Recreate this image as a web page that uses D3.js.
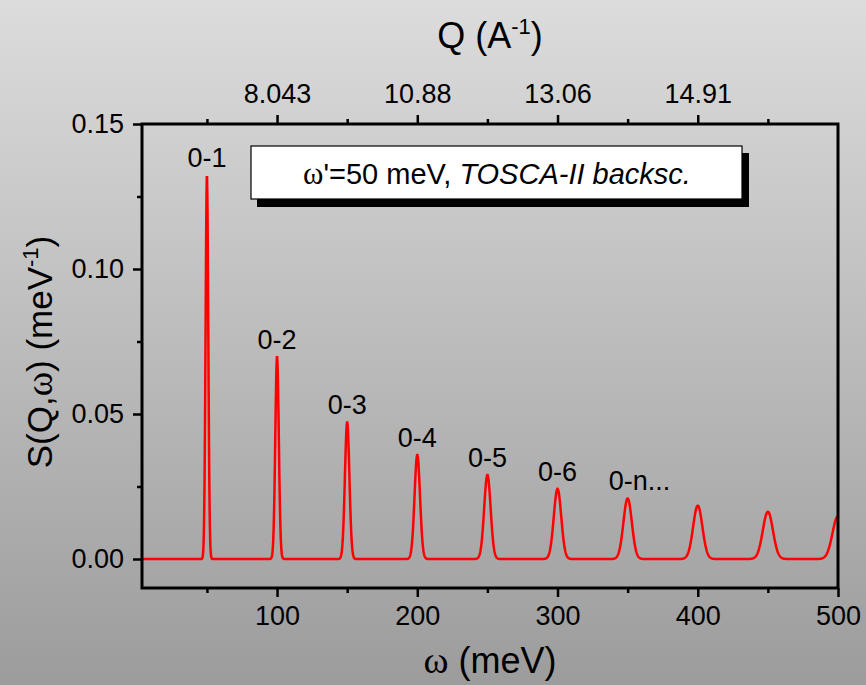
<!DOCTYPE html>
<html lang="en">
<head>
<meta charset="UTF-8">
<title>S(Q,w) TOSCA-II</title>
<script src="https://d3js.org/d3.v7.min.js"></script>
<style>
    body { margin: 0; }
    svg { display: block; font-family: "Liberation Sans", Arial, sans-serif; }
    .axis path { display: none; }
    .axis line { stroke: #000; stroke-width: 2.5; }
    .axis text { fill: #000; font-size: 27px; font-family: "Liberation Sans", Arial, sans-serif; }
    .peak-label { font-size: 27px; fill: #000; }
    .sym { font-family: "Liberation Serif", "Times New Roman", serif; }
</style>
</head>
<body>
<div id="chart"></div>
<script>
    // Peaks: centre (meV), height (1/meV), gaussian sigma (meV)
    const peakCenters = [50, 100, 150, 200, 250, 300, 350, 400, 450, 500];
    const peakHeights = [0.1324, 0.0698, 0.0472, 0.0359, 0.0290, 0.0242, 0.0209, 0.0184, 0.0163, 0.0148];
    const peakSigmas  = [0.95, 1.25, 1.6, 1.95, 2.3, 2.65, 3.0, 3.3, 3.6, 3.9];
    const peakLabels  = ["0-1", "0-2", "0-3", "0-4", "0-5", "0-6", "0-n..."];

    // axes
    const xMajorTicks = [100, 200, 300, 400, 500];
    const xMinorTicks = [50, 150, 250, 350, 450];
    const qTickValues = [100, 200, 300, 400];
    const qTickLabels = ["8.043", "10.88", "13.06", "14.91"];
    const yMajorTicks = [0, 0.05, 0.10, 0.15];
    const yMinorTicks = [0.025, 0.075, 0.125];

    const W = 866, H = 685;
    const margin = {top: 124, right: 28, bottom: 97, left: 142};
    const width = W - margin.left - margin.right;
    const height = H - margin.top - margin.bottom;

    const svg = d3.select("#chart").append("svg")
        .attr("width", W).attr("height", H);

    // grey gradient background
    const grad = svg.append("defs").append("linearGradient")
        .attr("id", "bg").attr("x1", 0).attr("y1", 0).attr("x2", 0).attr("y2", 1);
    grad.append("stop").attr("offset", "0%").attr("stop-color", "#dcdcdc");
    grad.append("stop").attr("offset", "100%").attr("stop-color", "#9c9c9c");
    svg.append("rect").attr("width", W).attr("height", H).attr("fill", "url(#bg)");

    svg.select("defs").append("clipPath").attr("id", "clip")
        .append("rect").attr("width", width).attr("height", height);

    const g = svg.append("g").attr("transform", `translate(${margin.left},${margin.top})`);

    const x = d3.scaleLinear().domain([3.7, 500]).range([0, width]);
    const y = d3.scaleLinear().domain([-0.01, 0.15]).range([height, 0]);

    // curve = sum of the gaussians above
    const omega = d3.range(3.7, 500.01, 0.2);
    const curve = omega.map(w => {
        let s = 0;
        peakCenters.forEach((c, i) => {
            s += peakHeights[i] * Math.exp(-0.5 * Math.pow((w - c) / peakSigmas[i], 2));
        });
        return [w, s];
    });

    g.append("path")
        .datum(curve)
        .attr("clip-path", "url(#clip)")
        .attr("fill", "none")
        .attr("stroke", "#ff0000")
        .attr("stroke-width", 2.5)
        .attr("d", d3.line().x(d => x(d[0])).y(d => y(d[1])));

    // bottom axis
    g.append("g").attr("class", "axis")
        .attr("transform", `translate(0,${height})`)
        .call(d3.axisBottom(x).tickValues(xMajorTicks).tickSize(9).tickPadding(9).tickSizeOuter(0));
    g.append("g").attr("class", "axis")
        .attr("transform", `translate(0,${height})`)
        .call(d3.axisBottom(x).tickValues(xMinorTicks).tickSize(5).tickFormat("").tickSizeOuter(0));

    // top axis (Q)
    g.append("g").attr("class", "axis")
        .call(d3.axisTop(x).tickValues(qTickValues).tickSize(9).tickPadding(12).tickSizeOuter(0)
            .tickFormat((d, i) => qTickLabels[i]));
    g.append("g").attr("class", "axis")
        .call(d3.axisTop(x).tickValues(xMinorTicks).tickSize(5).tickFormat("").tickSizeOuter(0));

    // left axis
    g.append("g").attr("class", "axis")
        .call(d3.axisLeft(y).tickValues(yMajorTicks).tickSize(9).tickPadding(9).tickSizeOuter(0)
            .tickFormat(d3.format(".2f")));
    g.append("g").attr("class", "axis")
        .call(d3.axisLeft(y).tickValues(yMinorTicks).tickSize(5).tickFormat("").tickSizeOuter(0));

    // frame
    g.append("rect")
        .attr("width", width).attr("height", height)
        .attr("fill", "none").attr("stroke", "#000").attr("stroke-width", 3);

    // peak labels
    peakLabels.forEach((t, i) => {
        const last = t.length > 3;
        g.append("text")
            .attr("class", "peak-label")
            .attr("x", x(peakCenters[i]) + (last ? -19 : 0))
            .attr("y", y(peakHeights[i]) - 8)
            .attr("text-anchor", last ? "start" : "middle")
            .text(t);
    });

    // legend box with shadow
    const lg = svg.append("g");
    lg.append("rect").attr("x", 257).attr("y", 153).attr("width", 492).attr("height", 54).attr("fill", "#000");
    lg.append("rect").attr("x", 251).attr("y", 146).attr("width", 491).attr("height", 53)
        .attr("fill", "#fff").attr("stroke", "#000").attr("stroke-width", 1.2);
    const lt = lg.append("text").attr("x", 497).attr("y", 184)
        .attr("text-anchor", "middle").attr("font-size", 29).attr("fill", "#000");
    lt.append("tspan").attr("class", "sym").attr("font-size", 31).text("ω");
    lt.append("tspan").text("'=50 meV, ");
    lt.append("tspan").attr("font-style", "italic").text("TOSCA-II backsc.");

    // axis titles
    const xt = svg.append("text").attr("x", margin.left + width / 2).attr("y", 673)
        .attr("text-anchor", "middle").attr("font-size", 36).attr("fill", "#000");
    xt.append("tspan").attr("class", "sym").attr("font-size", 38).text("ω");
    xt.append("tspan").text(" (meV)");

    const qt = svg.append("text").attr("x", margin.left + width / 2).attr("y", 48)
        .attr("text-anchor", "middle").attr("font-size", 36).attr("fill", "#000");
    qt.append("tspan").text("Q (A");
    qt.append("tspan").attr("font-size", 22).attr("dy", -14).text("-1");
    qt.append("tspan").attr("dy", 14).text(")");

    const yt = svg.append("text")
        .attr("transform", `translate(52,${margin.top + height / 2 - 4}) rotate(-90)`)
        .attr("text-anchor", "middle").attr("font-size", 35).attr("fill", "#000");
    yt.append("tspan").text("S(Q,");
    yt.append("tspan").attr("class", "sym").attr("font-size", 37).text("ω");
    yt.append("tspan").text(") (meV");
    yt.append("tspan").attr("font-size", 22).attr("dy", -14).text("-1");
    yt.append("tspan").attr("dy", 14).text(")");
</script>
</body>
</html>
